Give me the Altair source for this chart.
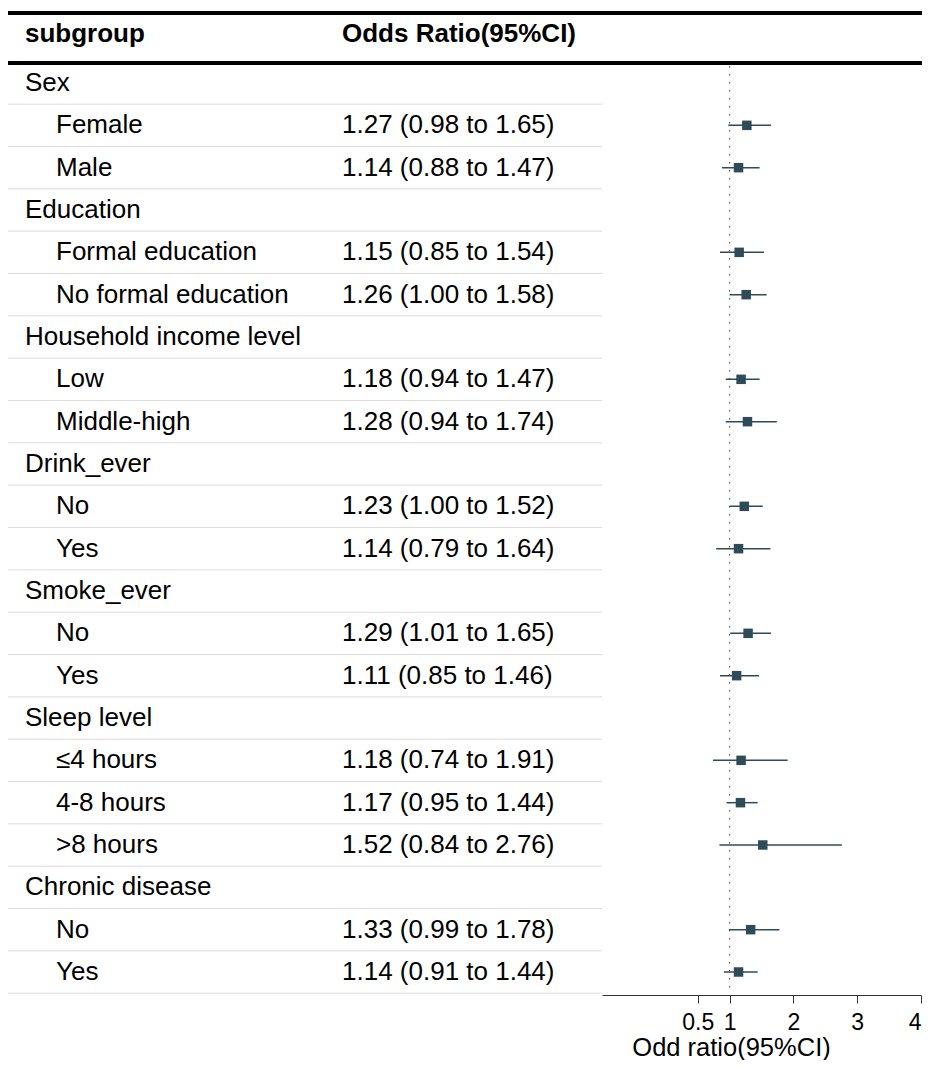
import altair as alt
import pandas as pd

# ---------------- data ----------------
subgroups = [
    "Sex", "Female", "Male",
    "Education", "Formal education", "No formal education",
    "Household income level", "Low", "Middle-high",
    "Drink_ever", "No", "Yes",
    "Smoke_ever", "No", "Yes",
    "Sleep level", "≤4 hours", "4-8 hours", ">8 hours",
    "Chronic disease", "No", "Yes",
]
is_group = [
    True, False, False,
    True, False, False,
    True, False, False,
    True, False, False,
    True, False, False,
    True, False, False, False,
    True, False, False,
]
or_est = [None, 1.27, 1.14, None, 1.15, 1.26, None, 1.18, 1.28, None, 1.23, 1.14,
          None, 1.29, 1.11, None, 1.18, 1.17, 1.52, None, 1.33, 1.14]
ci_low = [None, 0.98, 0.88, None, 0.85, 1.00, None, 0.94, 0.94, None, 1.00, 0.79,
          None, 1.01, 0.85, None, 0.74, 0.95, 0.84, None, 0.99, 0.91]
ci_high = [None, 1.65, 1.47, None, 1.54, 1.58, None, 1.47, 1.74, None, 1.52, 1.64,
           None, 1.65, 1.46, None, 1.91, 1.44, 2.76, None, 1.78, 1.44]
header_cols = ["subgroup", "Odds Ratio(95%CI)"]
x_ticks = [0.5, 1, 2, 3, 4]
ref_value = [1]
x_title = "Odd ratio(95%CI)"

rows = pd.DataFrame({
    "row": list(range(len(subgroups))),
    "subgroup": subgroups,
    "is_group": is_group,
    "or_est": or_est,
    "ci_low": ci_low,
    "ci_high": ci_high,
})
rows["or_text"] = [
    "" if g else f"{e:.2f} ({l:.2f} to {h:.2f})"
    for g, e, l, h in zip(is_group, or_est, ci_low, ci_high)
]

# ---------------- styling ----------------
FONT = "Liberation Sans"
FS = 26
COLOR = "#2F4B57"
W = 914
X_SCALE = alt.Scale(domain=[-1.0, 4.0], range=[594, 913], nice=False, zero=False)
Y_SCALE = alt.Scale(domain=[0, 21], range=[75, 964], nice=False, zero=False)

x_axis = alt.Axis(
    values=x_ticks, title=x_title, format="~g", grid=False,
    labelOverlap=False, labelFlush=True, tickSize=8, labelPadding=8,
    labelFontSize=23, labelFont=FONT, labelColor="black",
    titleFont=FONT, titleFontSize=25.5, titleFontWeight="normal", titleColor="black",
    titleX=723, titleY=60, titleBaseline="alphabetic", titleAlign="center",
    domainColor="#333333", tickColor="#333333", domainWidth=1, tickWidth=1,
)
y_enc = alt.Y("row:Q", scale=Y_SCALE, axis=None)

base = alt.Chart(rows)

separators = base.transform_calculate(sep="datum.row + 0.5").mark_rule(
    color="#dddddd", strokeWidth=1
).encode(
    y=alt.Y("sep:Q", scale=Y_SCALE, axis=None),
    x=alt.value(0), x2=alt.value(594),
)

one = pd.DataFrame({"k": [0]})
top_rule = alt.Chart(one).mark_rule(color="black", strokeWidth=4).encode(
    x=alt.value(0), x2=alt.value(W), y=alt.value(5)
)
mid_rule = alt.Chart(one).mark_rule(color="black", strokeWidth=4).encode(
    x=alt.value(0), x2=alt.value(W), y=alt.value(55)
)

ref_line = alt.Chart(pd.DataFrame({"ref": ref_value})).mark_rule(
    color="#444444", strokeWidth=1, strokeDash=[1.5, 6.5]
).encode(
    x=alt.X("ref:Q", scale=X_SCALE, axis=x_axis),
    y=alt.value(58), y2=alt.value(980),
)

items = base.transform_filter("!datum.is_group")

ci = items.mark_rule(color=COLOR, strokeWidth=1.5).encode(
    x=alt.X("ci_low:Q", scale=X_SCALE, axis=x_axis),
    x2="ci_high:Q",
    y=y_enc,
)
squares = items.mark_square(size=90, color=COLOR, opacity=1).encode(
    x=alt.X("or_est:Q", scale=X_SCALE, axis=x_axis),
    y=y_enc,
)

text_kw = dict(align="left", baseline="middle", font=FONT, fontSize=FS, color="black")
group_text = base.transform_filter("datum.is_group").mark_text(**text_kw).encode(
    x=alt.value(17), y=y_enc, text="subgroup:N"
)
item_text = items.mark_text(**text_kw).encode(
    x=alt.value(48), y=y_enc, text="subgroup:N"
)
or_text = items.mark_text(**text_kw).encode(
    x=alt.value(334), y=y_enc, text="or_text:N"
)

head1 = alt.Chart(pd.DataFrame({"h": [header_cols[0]]})).mark_text(
    fontWeight="bold", **text_kw
).encode(x=alt.value(17), y=alt.value(26), text="h:N")
head2 = alt.Chart(pd.DataFrame({"h": [header_cols[1]]})).mark_text(
    fontWeight="bold", **text_kw
).encode(x=alt.value(334), y=alt.value(26), text="h:N")

chart = alt.layer(
    separators, top_rule, mid_rule, ref_line, ci, squares,
    group_text, item_text, or_text, head1, head2,
).properties(
    width=W, height=987,
    padding={"left": 0, "right": 0, "top": 0, "bottom": 65},
    autosize=alt.AutoSizeParams(type="none"),
).configure_view(stroke=None)

chart.save("out.html", embed_options={"renderer": "svg", "actions": False})
